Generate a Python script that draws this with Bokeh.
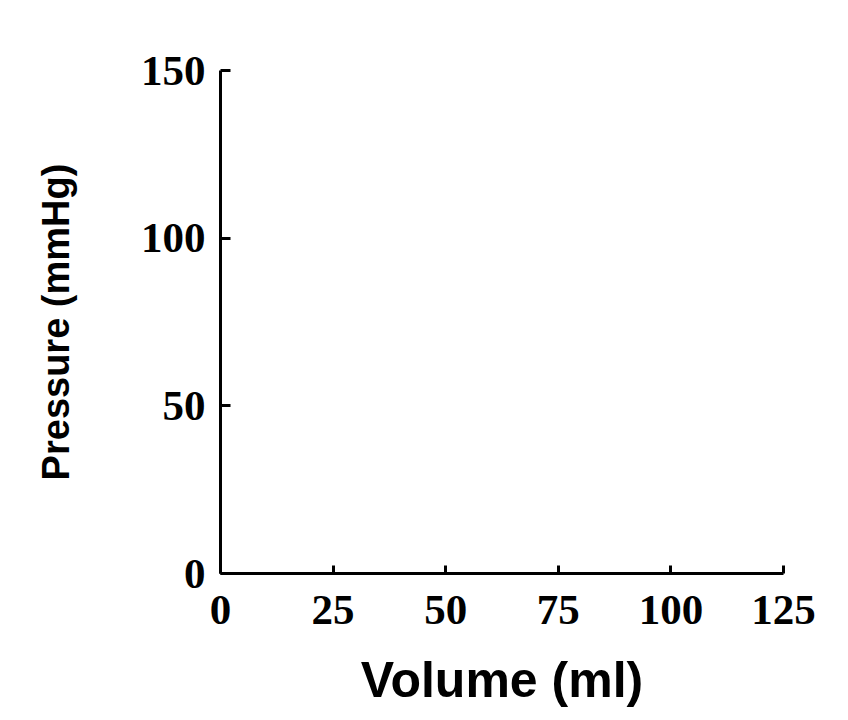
from bokeh.plotting import figure
from bokeh.models import Range1d, FixedTicker
from bokeh.embed import file_html
from bokeh.resources import INLINE

# Axis definitions (the reference chart has no data series)
x_ticks = [0, 25, 50, 75, 100, 125]
y_ticks = [0, 50, 100, 150]
x_label = "Volume (ml)"
y_label = "Pressure (mmHg)"

p = figure(width=840, height=712, output_backend="svg", toolbar_location=None,
           x_range=Range1d(0, 125), y_range=Range1d(0, 150),
           min_border_left=220, min_border_right=57,
           min_border_top=70, min_border_bottom=139)
p.frame_width = 563
p.frame_height = 503

p.outline_line_color = None
p.grid.visible = False
p.background_fill_color = "white"
p.border_fill_color = "white"

for ax, ticks, lab in ((p.xaxis[0], x_ticks, x_label), (p.yaxis[0], y_ticks, y_label)):
    ax.ticker = FixedTicker(ticks=ticks)
    ax.axis_label = lab
    ax.axis_line_width = 3
    ax.axis_line_color = "black"
    ax.major_tick_line_width = 3
    ax.major_tick_line_color = "black"
    ax.major_tick_in = 10
    ax.major_tick_out = 0
    ax.minor_tick_line_color = None
    ax.major_label_text_font = "Liberation Serif"
    ax.major_label_text_font_style = "bold"
    ax.major_label_text_font_size = "43px"
    ax.major_label_text_color = "black"
    ax.axis_label_text_font = "Liberation Sans"
    ax.axis_label_text_font_style = "bold"
    ax.axis_label_text_color = "black"

p.xaxis.major_tick_in = 8
p.xaxis.major_label_standoff = 22
p.xaxis.axis_label_text_font_size = "50px"
p.xaxis.axis_label_standoff = 25
p.yaxis.major_label_standoff = 15
p.yaxis.axis_label_text_font_size = "38px"
p.yaxis.axis_label_standoff = 61

open("out.html", "w").write(file_html(p, INLINE))
